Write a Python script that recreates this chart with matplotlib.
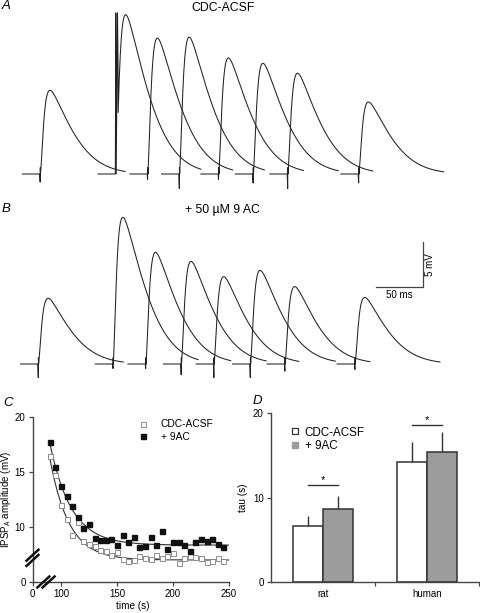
import numpy as np
import matplotlib
matplotlib.use("Agg")
import matplotlib.pyplot as plt
from matplotlib.lines import Line2D

plt.rcParams['font.family'] = ['Liberation Sans', 'DejaVu Sans']
plt.rcParams['mathtext.fontset'] = 'custom'
plt.rcParams['mathtext.rm'] = 'Liberation Sans'

# ---------------- data ----------------
# Panels A/B: IPSP sweeps (onset in ms, peak amplitude in mV)
onset_a_ms = [43, 124, 158, 192, 234, 271, 308, 384]
amp_a_mv = [9.3, 17.7, 15.1, 15.2, 12.9, 12.3, 11.2, 8.0]
art_down_a = [0.9, 0.5, 0.6, 1.6, 0.6, 1.0, 1.6, 1.0]
onset_b_ms = [41, 121, 156, 194, 229, 268, 305, 380]
amp_b_mv = [7.3, 16.3, 12.4, 11.4, 9.7, 10.4, 8.6, 7.4]
art_down_b = [1.5, 0.5, 0.5, 1.2, 1.5, 1.5, 0.8, 0.6]
art_up_mv = 0.7
a2_artifact = [(0.0, 17.9), (0.4, 0.0), (1.8, 17.9), (2.4, 11.8)]
pre_ms, post_ms = 19, 91
rise_tau_ms, decay_tau_ms, decay_power = 3.0, 38.0, 1.5

# Panel C: IPSP amplitude vs time
time_s = [90, 95, 100, 105, 110, 115, 120, 125, 130, 135, 140, 145, 150, 155, 160, 165,
          170, 175, 180, 185, 190, 195, 200, 205, 210, 215, 220, 225, 230, 235, 240, 245]
ctrl_mv = [16.5, 14.7, 12.0, 10.7, 9.3, 10.5, 8.7, 8.5, 8.3, 7.9, 7.8, 7.5, 7.7, 7.1, 6.9, 7.0,
           7.4, 7.2, 7.1, 7.5, 7.2, 7.4, 7.6, 6.7, 7.2, 7.4, 7.3, 7.2, 6.8, 6.9, 7.2, 6.9]
ac_mv = [17.7, 15.5, 13.7, 12.8, 11.9, 10.9, 9.9, 10.3, 9.0, 8.8, 8.8, 8.9, 8.4, 9.3, 8.6, 9.1,
         8.2, 8.3, 9.1, 8.4, 9.6, 8.0, 8.6, 8.6, 8.4, 7.8, 8.6, 8.9, 8.7, 8.9, 8.5, 8.2]
# exponential fits: (amplitude at t0, tau, plateau)
fit_t0 = 90
ctrl_fit = (9.3, 17.0, 7.0)
ac_fit = (9.3, 19.0, 8.35)

# Panel D: tau
categories = ['rat', 'human']
ctrl_tau = [6.6, 14.2]
ctrl_err = [1.2, 2.4]
ac_tau = [8.6, 15.4]
ac_err = [1.6, 2.3]
sig_y = [11.5, 18.6]

# ---------------- figure ----------------
W, H = 480, 613
fig = plt.figure(figsize=(W / 100, H / 100), dpi=100)


def rect(l, t, r, b):
    return [l / W, 1 - b / H, (r - l) / W, (b - t) / H]


trace_col = '#222222'
px_per_ms, px_per_mv = 0.934, 9.0


def shape(t):
    s = (1 - np.exp(-t / rise_tau_ms)) ** 2 * np.exp(-(t / decay_tau_ms) ** decay_power)
    return s / s.max()


t_pre = np.arange(-pre_ms, 0, 0.5)
t_post = np.arange(0, post_ms + 0.01, 0.25)
norm_shape = shape(t_post)

for (top, bot, onsets, amps, downs) in [(0, 200, onset_a_ms, amp_a_mv, art_down_a),
                                        (190, 390, onset_b_ms, amp_b_mv, art_down_b)]:
    ax = fig.add_axes(rect(0, top, 480, bot))
    ax.set_xlim(0, W / px_per_ms)
    ax.set_ylim(-(bot - top - 174) / px_per_mv, 174 / px_per_mv)
    ax.axis('off')
    ax.patch.set_alpha(0)
    for i, (on, amp, dn) in enumerate(zip(onsets, amps, downs)):
        if top == 0 and i == 1:
            art_t = [p[0] for p in a2_artifact]
            art_v = [p[1] for p in a2_artifact]
            start = 2.4
        else:
            art_t = [0.0, 0.15, 0.35]
            art_v = [-dn, art_up_mv, 0.0]
            start = 0.4
        mask = t_post >= start
        tt = np.concatenate([t_pre, art_t, t_post[mask]])
        vv = np.concatenate([np.zeros_like(t_pre), art_v, amp * norm_shape[mask]])
        ax.plot(tt + on, vv, color=trace_col, lw=0.75)
    if top == 190:
        # scale bar 50 ms / 5 mV
        x0, y0 = 376 / px_per_ms, (364 - 286.7) / px_per_mv
        ax.plot([x0, x0 + 50, x0 + 50], [y0, y0, y0 + 5], color='#444444', lw=0.9)
        ax.text(x0 + 25, y0 - 0.4, '50 ms', ha='center', va='top', fontsize=7)
        ax.text(x0 + 50 + 8, y0 + 2.5, '5 mV', ha='center', va='center', rotation=90, fontsize=7)

fig.text(223 / W, 1 - 8 / H, 'CDC-ACSF', ha='center', va='center', fontsize=8.8)
fig.text(222 / W, 1 - 210 / H, '+ 50 µM 9 AC', ha='center', va='center', fontsize=8.8)
for lab, x, y in [('A', 6, 6), ('B', 6, 209), ('C', 8, 403), ('D', 257, 401)]:
    fig.text(x / W, 1 - y / H, lab, ha='center', va='center', fontsize=9.5, style='italic')

spine_col = '#444444'

# ---------------- panel C ----------------
axC = fig.add_axes(rect(32.5, 417, 229, 582))
cxc, cyc = 0.0675, 1 / 6


def fx(x):
    x = np.asarray(x, float)
    return np.where(x >= 80, x, 80 - (80 - x) * cxc)


def ifx(u):
    u = np.asarray(u, float)
    return np.where(u >= 80, u, 80 - (80 - u) / cxc)


def fy(y):
    y = np.asarray(y, float)
    return np.where(y >= 6, y, 6 - (6 - y) * cyc)


def ify(v):
    v = np.asarray(v, float)
    return np.where(v >= 6, v, 6 - (6 - v) / cyc)


axC.set_xscale('function', functions=(fx, ifx))
axC.set_yscale('function', functions=(fy, ify))
axC.set_xlim(0, 250)
axC.set_ylim(0, 20)

t_fit = np.linspace(fit_t0, 250, 200)
for (a, tau, c) in (ctrl_fit, ac_fit):
    axC.plot(t_fit, c + a * np.exp(-(t_fit - fit_t0) / tau), color='#333333', lw=0.8)
axC.plot(time_s, ctrl_mv, 's', mfc='white', mec='#8c8c8c', ms=3.6, mew=0.7, ls='none')
axC.plot(time_s, ac_mv, 's', color='#111111', ms=3.6, ls='none')

axC.set_xticks([0, 100, 150, 200, 250])
axC.set_yticks([0, 10, 15, 20])
axC.xaxis.set_minor_locator(matplotlib.ticker.NullLocator())
axC.yaxis.set_minor_locator(matplotlib.ticker.NullLocator())
axC.set_xticklabels(['0', '100', '150', '200', '250'])
axC.set_yticklabels(['0', '10', '15', '20'])
axC.set_xlabel('time (s)', fontsize=7.2)
axC.xaxis.set_label_coords(0.511, -0.115)
axC.set_ylabel('IPSP$_\\mathrm{A}$ amplitude (mV)', fontsize=7.0)
axC.yaxis.set_label_coords(-0.098, 0.5)

hC = [Line2D([], [], marker='s', ls='none', mfc='white', mec='#8c8c8c', ms=3.6, mew=0.7),
      Line2D([], [], marker='s', ls='none', color='#111111', ms=3.6)]
axC.legend(hC, ['CDC-ACSF', '+ 9AC'], loc='upper left', bbox_to_anchor=(0.537, 0.985),
           frameon=False, fontsize=7.4, handlelength=1.0, handletextpad=1.2,
           borderpad=0, borderaxespad=0, labelspacing=0.25)

# ---------------- panel D ----------------
axD = fig.add_axes(rect(270.7, 413, 479, 582))
x = np.arange(len(categories))
w = 0.288
axD.bar(x - w / 2, ctrl_tau, w, color='white', edgecolor='#333333', lw=1.1, zorder=2)
axD.bar(x + w / 2, ac_tau, w, color='#9c9c9c', edgecolor='#333333', lw=1.1, zorder=2)
axD.errorbar(x - w / 2, ctrl_tau, yerr=[np.zeros(2), ctrl_err], fmt='none',
             ecolor='#333333', elinewidth=1.0, capsize=0, zorder=1)
axD.errorbar(x + w / 2, ac_tau, yerr=[np.zeros(2), ac_err], fmt='none',
             ecolor='#333333', elinewidth=1.0, capsize=0, zorder=1)
for xi, sy in zip(x, sig_y):
    axD.plot([xi - w / 2, xi + w / 2], [sy, sy], color='#333333', lw=1.0)
    axD.text(xi, sy + 0.2, '*', ha='center', va='baseline', fontsize=8)
axD.set_xlim(-0.5, 1.5)
axD.set_ylim(0, 20)
axD.set_yticks([0, 10, 20])
axD.set_xticks(x)
axD.set_xticklabels(categories)
axD.set_xticks([0.5, 1.5], minor=True)
axD.tick_params(axis='x', which='minor', length=3, width=0.9, color=spine_col)
axD.set_ylabel('tau (s)', fontsize=7.2)
axD.yaxis.set_label_coords(-0.109, 0.5)
hD = [Line2D([], [], marker='s', ls='none', mfc='white', mec='#333333', ms=4.3, mew=0.9),
      Line2D([], [], marker='s', ls='none', mfc='#9c9c9c', mec='#9c9c9c', ms=4.3)]
axD.legend(hD, ['CDC-ACSF', '+ 9AC'], loc='upper left', bbox_to_anchor=(0.0965, 0.92),
           frameon=False, fontsize=8.4, handlelength=0.8, handletextpad=0.4,
           borderpad=0, borderaxespad=0, labelspacing=0.15)

for ax in (axC, axD):
    for s in ('top', 'right'):
        ax.spines[s].set_visible(False)
    for s in ('left', 'bottom'):
        ax.spines[s].set_color(spine_col)
        ax.spines[s].set_linewidth(1.0)
    ax.tick_params(which='major', labelsize=7, length=3, width=0.9, color=spine_col, pad=2)
    ax.patch.set_alpha(0)
axD.tick_params(axis='x', which='major', length=0, pad=5)

# break marks on panel C axes
inv_fig = fig.transFigure.inverted()


def break_mark(xd, yd, dx, dy):
    cx_, cy_ = axC.transData.transform((xd, yd))
    for k in (-1, 1):
        px = cx_ + k * dx
        py = cy_ + k * dy
        p0 = inv_fig.transform((px - 6, py - 5.5))
        p1 = inv_fig.transform((px + 6, py + 5.5))
        fig.add_artist(Line2D([p0[0], p1[0]], [p0[1], p1[1]], transform=fig.transFigure,
                              color='#111111', lw=1.8))


break_mark(0, 7.2, 0, 2.6)
break_mark(86.6, 0, 2.6, 0)

fig.savefig('out.png', dpi=100)
